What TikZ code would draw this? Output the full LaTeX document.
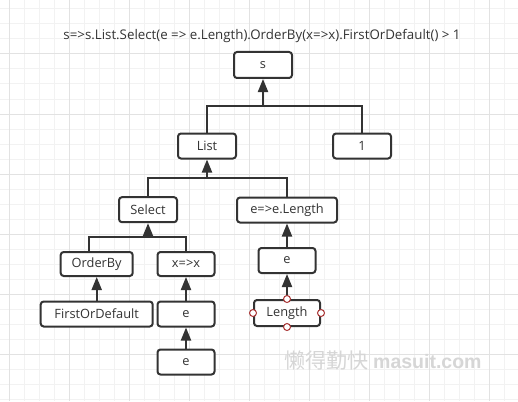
\documentclass[tikz,border=0pt]{standalone}
\usepackage{fontspec}
\setmainfont{Open Sans}
\newfontfamily\cjkfont{Noto Sans CJK SC}
\newfontfamily\wmfont{Liberation Sans}
\usetikzlibrary{arrows.meta}
\definecolor{ink}{HTML}{333333}
\definecolor{gminor}{HTML}{F2F2F2}
\definecolor{gmajor}{HTML}{E2E2E2}
\definecolor{handle}{HTML}{A83232}
\definecolor{wm}{HTML}{D6D6D6}
\begin{document}
\begin{tikzpicture}[x=1pt,y=-1pt,
  box/.style={draw=ink, line width=2pt, rounded corners=3pt, fill=white, inner sep=0pt,
    text=ink, font=\fontsize{12.8}{15}\selectfont, minimum height=25pt},
  conn/.style={draw=ink, line width=2pt},
  arr/.style={conn, -{Triangle[length=13pt,width=10pt]}},
  hd/.style={circle, draw=handle, fill=white, line width=1pt, minimum size=7pt, inner sep=0pt},
  minorline/.style={draw=gminor, line width=1pt},
  majorline/.style={draw=gmajor, line width=1pt}]
\fill[white] (0,0) rectangle (518,401);
\useasboundingbox (0,0) rectangle (518,401);
% grid
\foreach \x in {9,24,...,518} \draw[minorline] (\x,0) -- (\x,401);
\foreach \y in {9,24,...,401} \draw[minorline] (0,\y) -- (518,\y);
\foreach \x in {9,69,...,518} \draw[majorline] (\x,0) -- (\x,401);
\foreach \y in {54,114,...,401} \draw[majorline] (0,\y) -- (518,\y);

% title
\node[text=ink, font=\fontsize{13.3}{15}\selectfont] (title) at (262,36)
  {s=>s.List.Select(e => e.Length).OrderBy(x=>x).FirstOrDefault() > 1};

% nodes
\node[box, minimum width=58pt, minimum height=26pt] (s) at (263,65) {s};
\node[box, minimum width=58pt] (List) at (207,146) {List};
\node[box, minimum width=58pt] (one) at (362,146) {1};
\node[box, minimum width=58pt] (Select) at (148,209.7) {Select};
\node[box, minimum width=100pt] (elen) at (287,210) {e=>e.Length};
\node[box, minimum width=72pt, minimum height=24pt] (OrderBy) at (96.7,264) {OrderBy};
\node[box, minimum width=57pt, minimum height=24pt] (xx) at (186,264) {x=>x};
\node[box, minimum width=112pt] (First) at (96.7,314) {FirstOrDefault};
\node[box, minimum width=57pt] (e1) at (186,314) {e};
\node[box, minimum width=57pt] (e2) at (186,362) {e};
\node[box, minimum width=57pt] (e3) at (287,260.5) {e};
\node[box, minimum width=66pt, minimum height=26pt] (Length) at (287,313) {Length};

% connectors
\coordinate (j1) at (263,106);
\coordinate (j2) at (207,178);
\coordinate (j3) at (148,237);
\draw[conn] (List.north) |- (j1) -| (one.north);
\draw[arr] (j1) -- (s.south);
\draw[conn] (Select.north) |- (j2) -| (elen.north);
\draw[arr] (j2) -- (List.south);
\draw[conn] ([xshift=-7.7pt]OrderBy.north) |- (j3) -| (xx.north);
\draw[arr] (j3) -- (Select.south);
\draw[arr] (First.north) -- (OrderBy.south);
\draw[arr] (e1.north) -- (xx.south);
\draw[arr] (e2.north) -- (e1.south);
\draw[arr] (Length.north) -- (e3.south);
\draw[arr] (e3.north) -- (elen.south);

% selection handles
\node[hd] (hn) at (Length.north) {};
\node[hd] (hs) at (Length.south) {};
\node[hd] (he) at (Length.east) {};
\node[hd] (hw) at (Length.west) {};

% watermark
\node[text=wm, anchor=base west, inner sep=0pt] (wmk) at (284,368)
  {\fontsize{21}{24}\selectfont\cjkfont 懒得勤快\hspace{5pt}\fontsize{19.5}{24}\selectfont\wmfont\bfseries masuit.com};
\end{tikzpicture}
\end{document}
